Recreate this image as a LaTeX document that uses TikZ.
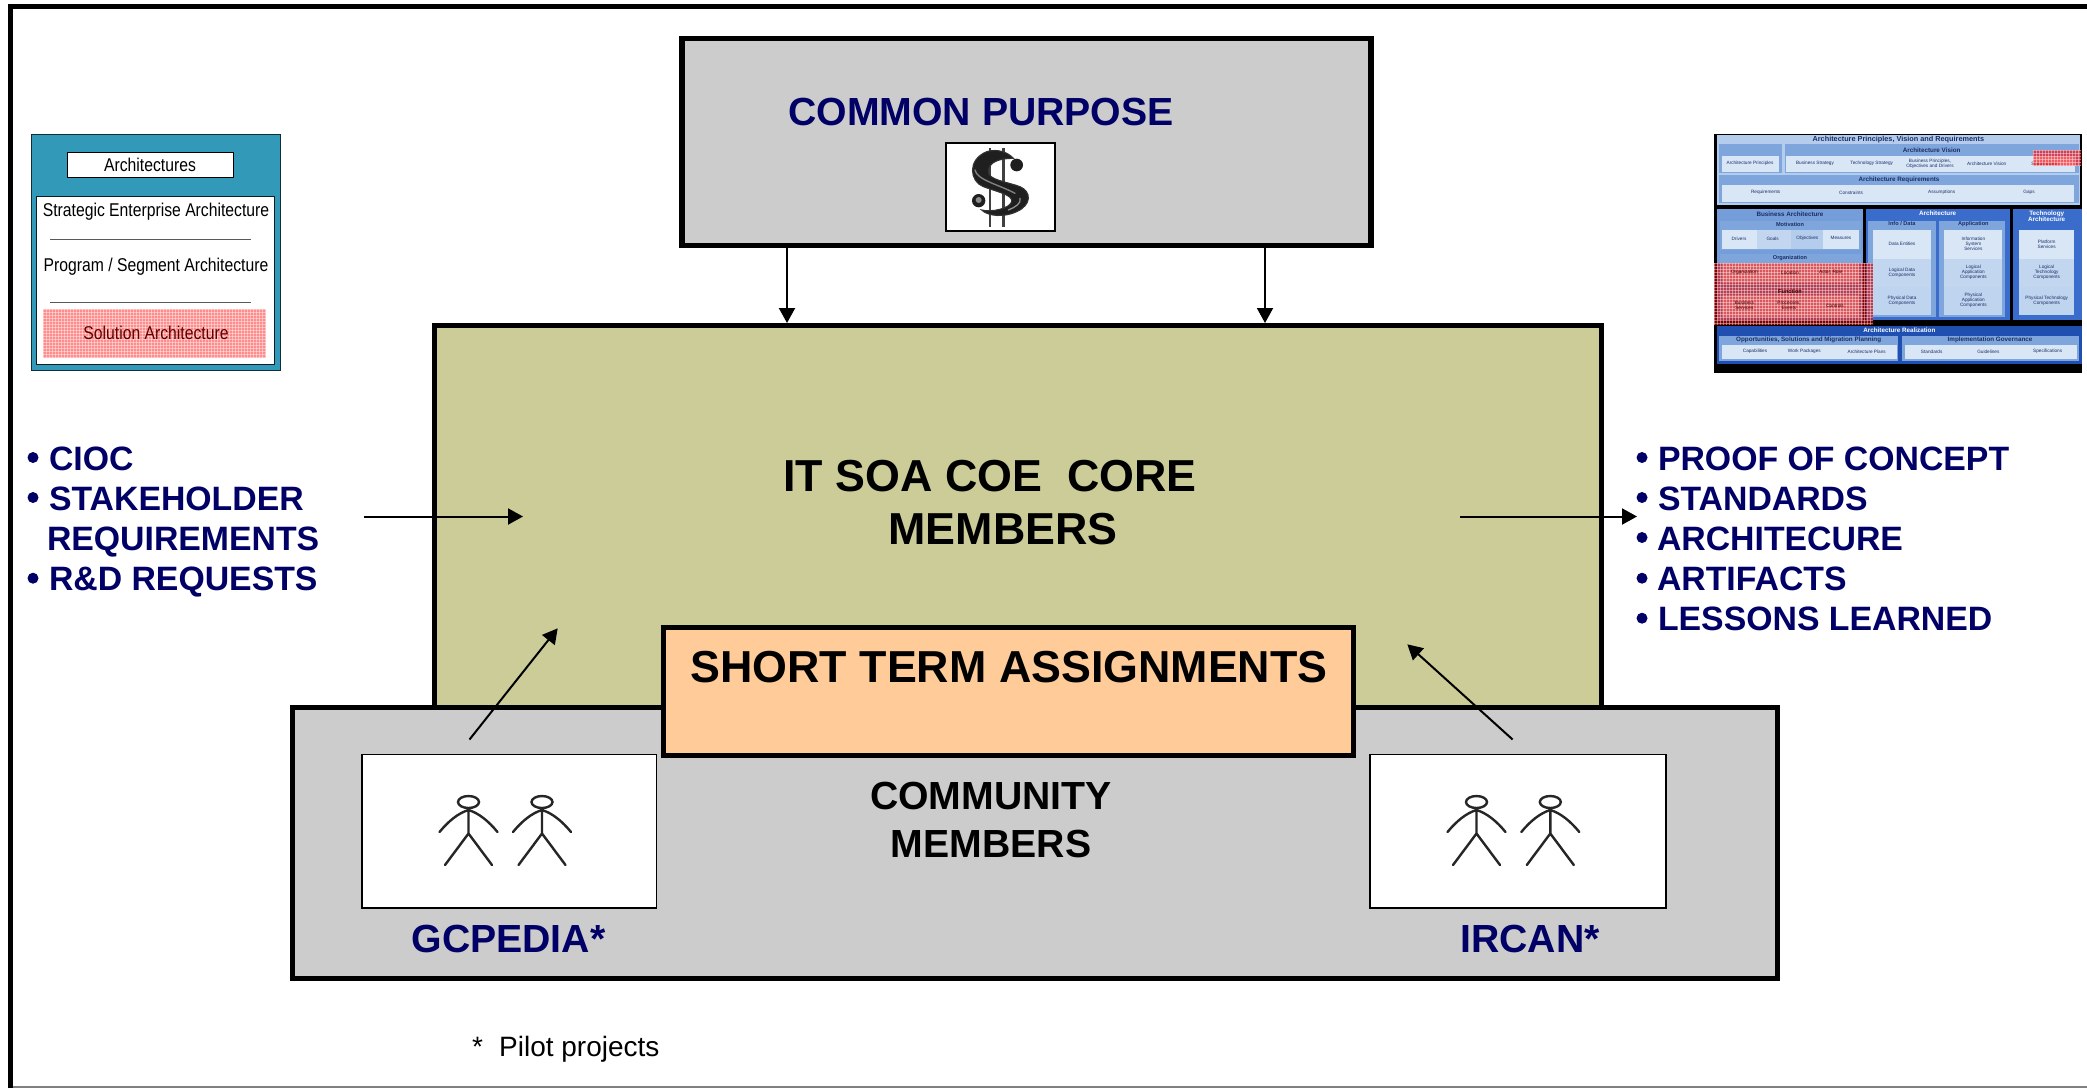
\documentclass[tikz,border=0pt]{standalone}
\usepackage{fontspec}
\usetikzlibrary{arrows.meta}
\setmainfont{Liberation Sans}
\newfontfamily\narrowf[FakeStretch=0.85]{Liberation Sans}
\definecolor{navy}{HTML}{000066}
\definecolor{panelgray}{HTML}{CCCCCC}
\definecolor{olive}{HTML}{CCCC99}
\definecolor{peach}{HTML}{FFCC99}
\definecolor{teal1}{HTML}{3399B8}
\definecolor{tgLight}{HTML}{D9E6F6}
\definecolor{tgBand}{HTML}{C2D6EF}
\definecolor{tgPale}{HTML}{B4CDEC}
\definecolor{tgMid}{HTML}{7FA6DC}
\definecolor{tgBlue}{HTML}{3A6CCC}
\definecolor{tgDeep}{HTML}{1F4FB0}
\definecolor{tgInk}{HTML}{1A2F66}
\tikzset{
  rect/.style n args={4}{rectangle,inner sep=0pt,outer sep=0pt,
    minimum width={(#3-#1)*1pt},minimum height={(#4-#2)*1pt},
    at={({(#1+#3)/2},{(#2+#4)/2})}},
  heavy/.style={draw=black,line width=5.2pt},
  thinbox/.style={draw=black,line width=1.7pt,fill=white},
  arr/.style={draw=black,line width=2pt,-{Triangle[length=15pt,width=16pt]}},
  bigtxt/.style={anchor=base,inner sep=0pt,outer sep=0pt,font=\fontsize{44.8}{44.8}\selectfont\bfseries},
  midtxt/.style={anchor=base,inner sep=0pt,outer sep=0pt,font=\fontsize{39.2}{39.2}\selectfont\bfseries},
  bluetxt/.style={midtxt,text=navy},
  itemtxt/.style={anchor=base west,inner sep=0pt,outer sep=0pt,text=navy,font=\fontsize{33.8}{33.8}\selectfont\bfseries},
  bulletdot/.style={circle,fill=navy,inner sep=0pt,outer sep=0pt,minimum size=11pt},
  smalltxt/.style={anchor=base,inner sep=0pt,outer sep=0pt,font=\fontsize{18.5}{18.5}\narrowf},
  tcap/.style={inner sep=0pt,outer sep=0pt,align=center,font=\fontsize{4.7}{4.9}\selectfont,text=tgInk},
  thead/.style={inner sep=0pt,outer sep=0pt,align=center,font=\fontsize{6.3}{6.8}\selectfont\bfseries,text=tgInk},
  tsub/.style={thead,font=\fontsize{5.6}{6}\selectfont\bfseries},
  theadw/.style={thead,text=white},
  dollarline/.style={draw=black!80,line width=1.1pt,fill=black!88},
}
% TOGAF panel helper, in crop coordinates
\newcommand{\tg}[5]{\fill[#5] ({1700+#1/3},{120+#2/3}) rectangle ({1700+#3/3},{120+#4/3});}
\newcommand{\tc}[4][tcap]{\node[#1] at ({1700+#2/3},{120+#3/3}) {#4};}
% red screen patch
\newcommand{\redpatch}[5]{%
  \fill[#5] (#1,#2) rectangle (#3,#4);
  \begin{scope}
    \clip (#1,#2) rectangle (#3,#4);
    \foreach \k in {0,...,80}{
      \draw[white,opacity=.4,line width=.8pt] ({#1+\k*3},#2) -- ({#1+\k*3},#4);
      \draw[white,opacity=.4,line width=.8pt] (#1,{#2+\k*3}) -- (#3,{#2+\k*3});
    }
  \end{scope}}
% stick figure
\newcommand{\stick}[2]{%
  \draw[black!85,line width=2.4pt,line cap=round]
    (#1,#2) ellipse (10.5pt and 6pt)
    (#1,{#2+6.5}) -- (#1,{#2+31.5})
    ({#1-23.5},{#2+63}) -- (#1,{#2+31.5}) -- ({#1+23.5},{#2+63})
    ({#1-29},{#2+30}) .. controls ({#1-20},{#2+19}) and ({#1-10},{#2+11}) .. (#1,{#2+8})
    .. controls ({#1+10},{#2+11}) and ({#1+20},{#2+19}) .. ({#1+29},{#2+30});}
\begin{document}
\begin{tikzpicture}[x=1pt,y=-1pt]
\useasboundingbox (0,0) rectangle (2087,1088);
\fill[white] (0,0) rectangle (2087,1088);
% outer frame
\draw[black!50,line width=1.2pt] (10,1087) -- (2087,1087);
\draw[black,line width=5.2pt] (10.6,1088) -- (10.6,6.6) -- (2087,6.6);

% left inset
\node[rect={31}{134}{280}{370},fill=teal1,draw=black!70!teal1,line width=1pt] (insetA) {};
\node[rect={67}{152}{233}{177},thinbox,line width=1pt,font=\fontsize{18.5}{18.5}\narrowf] (insetTitle) {Architectures};
\node[rect={36}{196}{274}{364},thinbox,line width=1pt,draw=black!80!teal1] (insetB) {};
\redpatch{43}{309}{266}{358}{red!45!white}
\draw[black!65,line width=1pt] (50,239) -- (251,239) (50,302) -- (251,302);
\node[smalltxt] (s1) at (156,216) {Strategic Enterprise Architecture};
\node[smalltxt] (s2) at (156,271) {Program / Segment Architecture};
\node[smalltxt,text=black!60!red!90!black] (s3) at (156,339) {Solution Architecture};

% right inset (TOGAF)
\tg{42}{42}{1146}{760}{black}
\tg{52}{46}{1140}{255}{tgPale}
\tc[thead,font=\fontsize{7.3}{7.3}\selectfont\bfseries]{595}{58}{Architecture Principles, Vision and Requirements}
\tg{58}{73}{245}{160}{tgMid}
\tg{65}{107}{238}{155}{tgLight}
\tc{150}{130}{Architecture Principles}
\tg{255}{73}{1137}{160}{tgMid}
\tg{258}{107}{1125}{155}{tgLight}
\tc[thead]{695}{90}{Architecture Vision}
\tc{345}{130}{Business Strategy}
\tc{515}{130}{Technology Strategy}
\tc{690}{130}{Business Principles,\\Objectives and Drivers}
\tc{860}{130}{Architecture Vision}
\tc{1035}{130}{Stakeholders}
\tg{58}{165}{1137}{250}{tgMid}
\tg{65}{195}{1122}{245}{tgLight}
\tc[thead]{597}{181}{Architecture Requirements}
\tc{197}{218}{Requirements}
\tc{453}{218}{Constraints}
\tc{725}{218}{Assumptions}
\tc{987}{218}{Gaps}
% business
\tg{52}{268}{490}{600}{tgMid!85!tgBlue}
\tc[thead]{270}{283}{Business Architecture}
\tg{60}{302}{484}{390}{tgMid}
\tg{65}{330}{478}{386}{tgLight}
\tg{172}{330}{273}{386}{tgBand}
\tg{273}{330}{370}{386}{tgPale}
\tc[tsub]{270}{312}{Motivation}
\tc{117}{355}{Drivers}
\tc{218}{355}{Goals}
\tc{322}{355}{Objectives}
\tc{423}{355}{Measures}
\tg{60}{403}{484}{495}{tgMid}
\tg{65}{430}{478}{488}{tgLight}
\tc[tsub]{270}{414}{Organization}
\tg{60}{503}{484}{595}{tgMid}
\tg{65}{525}{478}{590}{tgLight}
% data / application
\tg{498}{268}{930}{600}{tgBlue}
\tc[theadw]{713}{281}{Architecture}
\tg{505}{302}{708}{592}{tgMid}
\tg{518}{330}{692}{585}{tgLight}
\tg{518}{418}{692}{500}{tgBand}
\tg{518}{500}{692}{585}{tgPale!70!tgLight}
\tc[tsub]{606}{311}{Info / Data}
\tc{606}{372}{Data Entities}
\tc{606}{458}{Logical Data\\Components}
\tc{606}{542}{Physical Data\\Components}
\tg{718}{302}{915}{592}{tgMid}
\tg{733}{330}{907}{585}{tgLight}
\tg{733}{418}{907}{500}{tgBand}
\tg{733}{500}{907}{585}{tgPale!70!tgLight}
\tc[tsub]{820}{311}{Application}
\tc{820}{372}{Information\\System\\Services}
\tc{820}{458}{Logical\\Application\\Components}
\tc{820}{542}{Physical\\Application\\Components}
% technology
\tg{940}{268}{1146}{600}{tgBlue}
\tc[theadw]{1040}{289}{Technology\\Architecture}
\tg{958}{330}{1122}{585}{tgLight}
\tg{958}{418}{1122}{500}{tgBand}
\tg{958}{500}{1122}{585}{tgPale!70!tgLight}
\tc{1040}{372}{Platform\\Services}
\tc{1040}{458}{Logical\\Technology\\Components}
\tc{1040}{542}{Physical Technology\\Components}
% realization
\tg{52}{618}{1146}{732}{tgDeep}
\tc[theadw]{598}{631}{Architecture Realization}
\tg{58}{648}{595}{722}{tgMid}
\tg{67}{675}{590}{718}{tgLight}
\tc[thead]{326}{661}{Opportunities, Solutions and Migration Planning}
\tc{165}{694}{Capabilities}
\tc{313}{694}{Work Packages}
\tc{500}{694}{Architecture Plans}
\tg{607}{648}{1137}{722}{tgMid}
\tg{615}{675}{1130}{718}{tgLight}
\tc[thead]{870}{661}{Implementation Governance}
\tc{695}{694}{Standards}
\tc{865}{694}{Guidelines}
\tc{1043}{694}{Specifications}
% red overlays
\fill[black] (1714,321) rectangle (1873,325);
\redpatch{1714}{263}{1873}{325}{red!85!black,opacity=.62}
\redpatch{2033}{150}{2081}{166}{red,opacity=.6}
\tc[tcap,text=red!25!black]{133}{457}{Organization}
\tc[tcap,text=red!25!black]{270}{457}{Location}
\tc[tcap,text=red!25!black]{392}{457}{Actor, Role}
\tc[tsub,text=red!25!black]{270}{514}{Function}
\tc[tcap,text=red!25!black]{133}{557}{Business\\Services}
\tc[tcap,text=red!25!black]{267}{557}{Processes,\\Events}
\tc[tcap,text=red!25!black]{405}{557}{Controls}

% common purpose
\node[rect={682}{38.5}{1371}{245.5},heavy,fill=panelgray] (common) {};
\node[bluetxt] (commonT) at (981,125) {COMMON PURPOSE};
\node[rect={946}{143}{1055}{231},thinbox] (dollar) {};
% dollar sign drawn as a picture, in crop coordinates
\begin{scope}[shift={(920,130)},x=0.3333pt,y=-0.3333pt]
  \draw[black!75,line width=2.4pt] (210,55) -- (210,290) (250,55) -- (250,290);
  \draw[dollarline]
    (280,85) .. controls (240,85) and (205,95) .. (205,125)
    .. controls (205,150) and (260,155) .. (300,170)
    .. controls (335,185) and (335,225) .. (290,245)
    .. controls (255,262) and (205,260) .. (185,240)
    .. controls (215,248) and (270,235) .. (275,215)
    .. controls (280,195) and (230,185) .. (190,170)
    .. controls (150,155) and (140,90) .. (200,65)
    .. controls (235,55) and (265,68) .. (280,85) -- cycle;
  \fill[black!88] (290,105) circle (19);
  \fill[black!88] (176,212) circle (20);
  \fill[black!45] (176,210) circle (9);
  \draw[black!50,line width=1.4pt,line cap=round]
    (165,120) .. controls (170,150) and (240,165) .. (285,190);
  \draw[black!40,line width=1.2pt,line cap=round]
    (300,205) .. controls (305,220) and (285,232) .. (265,240);
\end{scope}

% core
\node[rect={434.5}{325.5}{1601.5}{708},heavy,fill=olive] (core) {};
\node[bigtxt] (coreA) at (990,491) {IT SOA COE\ \ CORE};
\node[bigtxt] (coreB) at (1003,544.5) {MEMBERS};

% community
\node[rect={292.5}{707.5}{1777.5}{978.5},heavy,fill=panelgray] (community) {};
\node[midtxt] (commA) at (991,809) {COMMUNITY};
\node[midtxt] (commB) at (991,857) {MEMBERS};

\node[rect={362}{754.5}{656.5}{908},thinbox] (gcbox) {};
\node[rect={1370}{754.5}{1666}{908},thinbox] (irbox) {};
\stick{468.5}{802}
\stick{542}{802}
\stick{1476.5}{802}
\stick{1550.3}{802}
\node[bluetxt] (gc) at (508.5,952.5) {GCPEDIA*};
\node[bluetxt] (ir) at (1530,952.5) {IRCAN*};

% arrows
\coordinate (c1) at (787,323);
\coordinate (c2) at (1265,323);
\draw[arr] (common.south -| c1) -- (c1);
\draw[arr] (common.south -| c2) -- (c2);
\coordinate (inA) at (364,516.5);
\coordinate (inB) at (523,516.5);
\draw[arr] (inA) -- (inB);
\coordinate (outA) at (1460,516.5);
\coordinate (outB) at (1637,516.5);
\draw[arr] (outA) -- (outB);
\coordinate (gA) at (469.5,739.5);
\coordinate (gB) at (557.7,628.3);
\draw[arr] (gA) -- (gB);
\coordinate (iA) at (1512.6,739.5);
\coordinate (iB) at (1407.3,644.3);
\draw[arr] (iA) -- (iB);

% short term
\node[rect={663.5}{627.5}{1353.5}{755.5},heavy,fill=peach] (short) {};
\node[bigtxt] (shortT) at (1009,682) {SHORT TERM ASSIGNMENTS};

% left list
\node[bulletdot] (l1b) at (33,457.5) {};  \node[itemtxt] (l1) at (49,470) {CIOC};
\node[bulletdot] (l2b) at (33,497.5) {};  \node[itemtxt] (l2) at (49,510) {STAKEHOLDER};
\node[itemtxt] (l3) at (47,550) {REQUIREMENTS};
\node[bulletdot] (l4b) at (33,578.2) {};\node[itemtxt] (l4) at (49,590.7) {R\&D REQUESTS};
% right list
\node[bulletdot] (r1b) at (1642,457.5) {};  \node[itemtxt] (r1) at (1658,470) {PROOF OF CONCEPT};
\node[bulletdot] (r2b) at (1642,497.5) {};  \node[itemtxt] (r2) at (1658,510) {STANDARDS};
\node[bulletdot] (r3b) at (1642,537.5) {};  \node[itemtxt] (r3) at (1657,550) {ARCHITECURE};
\node[bulletdot] (r4b) at (1642,578.2) {};\node[itemtxt] (r4) at (1657,590.7) {ARTIFACTS};
\node[bulletdot] (r5b) at (1642,618.2) {};\node[itemtxt] (r5) at (1658,630.7) {LESSONS LEARNED};

% footnote
\node[anchor=base west,inner sep=0pt,font=\fontsize{28}{28}\selectfont] (fnS) at (472,1056) {*};
\node[anchor=base west,inner sep=0pt,font=\fontsize{28}{28}\selectfont] (fn) at (499,1056) {Pilot projects};
\end{tikzpicture}
\end{document}
